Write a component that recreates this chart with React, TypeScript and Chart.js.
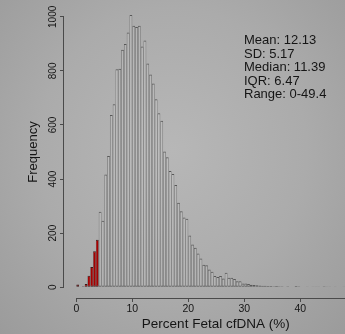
import React, { useEffect, useRef } from "react";
import { Chart, registerables } from "chart.js";

Chart.register(...registerables);

// Histogram bins: start of each 0.5%-wide bin
const binStarts = [
  0, 0.5, 1, 1.5, 2, 2.5, 3, 3.5, 4, 4.5,
  5, 5.5, 6, 6.5, 7, 7.5, 8, 8.5, 9, 9.5,
  10, 10.5, 11, 11.5, 12, 12.5, 13, 13.5, 14, 14.5,
  15, 15.5, 16, 16.5, 17, 17.5, 18, 18.5, 19, 19.5,
  20, 20.5, 21, 21.5, 22, 22.5, 23, 23.5, 24, 24.5,
  25, 25.5, 26, 26.5, 27, 27.5, 28, 28.5, 29, 29.5,
  30, 30.5, 31, 31.5, 32, 32.5, 33, 33.5, 34, 34.5,
  35, 35.5, 36, 36.5, 37, 37.5, 38, 38.5, 39, 39.5,
  40, 40.5, 41, 41.5, 42, 42.5, 43, 43.5, 44, 44.5,
  45, 45.5, 46, 46.5, 47, 47.5, 48, 48.5, 49, 49.5,
];
const binWidth = 0.5;

// Frequencies
const counts = [
  10, 0, 3, 12, 42, 75, 133, 175, 279, 246,
  417, 485, 637, 677, 806, 808, 878, 899, 942, 1007,
  967, 962, 967, 890, 912, 827, 787, 753, 695, 643,
  616, 502, 481, 430, 419, 378, 312, 281, 258, 253,
  191, 158, 146, 125, 106, 83, 81, 65, 57, 41,
  38, 41, 32, 53, 35, 35, 30, 22, 22, 14,
  14, 12, 9, 8, 7, 6, 5, 5, 4, 4,
  3, 4, 3, 3, 2, 3, 2, 2, 4, 3,
  2, 2, 1, 2, 1, 1, 1, 2, 3, 1,
  1, 0, 1, 0, 0, 1, 0, 0, 1, 0,
];

const lowCutoff = 4; // bins below this are highlighted red
const xTicks = [0, 10, 20, 30, 40, 50];
const yTicks = [0, 200, 400, 600, 800, 1000];
const statsLines = ["Mean: 12.13", "SD: 5.17", "Median: 11.39", "IQR: 6.47", "Range: 0-49.4"];

const FONT = '"Liberation Sans", Arial, sans-serif';
const AXIS_COLOR = "#4a4a4a";
const TEXT_COLOR = "#151515";

const axisLinesPlugin = {
  id: "axisLines",
  afterDatasetsDraw(chart: any) {
    const ctx = chart.ctx;
    const area = chart.chartArea;
    const x = chart.scales.x;
    const y = chart.scales.y;
    ctx.save();
    ctx.strokeStyle = AXIS_COLOR;
    ctx.lineWidth = 1;
    ctx.beginPath();
    const yb = Math.round(area.bottom) + 0.5;
    ctx.moveTo(x.getPixelForValue(xTicks[0]), yb);
    ctx.lineTo(x.getPixelForValue(xTicks[xTicks.length - 1]), yb);
    ctx.stroke();
    ctx.beginPath();
    const xl = Math.round(area.left) - 0.5;
    ctx.moveTo(xl, y.getPixelForValue(yTicks[0]));
    ctx.lineTo(xl, y.getPixelForValue(yTicks[yTicks.length - 1]));
    ctx.stroke();
    ctx.restore();
  },
};

export default function App() {
  const ref = useRef<HTMLCanvasElement>(null);

  useEffect(() => {
    if (!ref.current) return;
    const data = binStarts.map((b, i) => ({ x: b + binWidth / 2, y: counts[i] }));
    const chart = new Chart(ref.current, {
      type: "bar",
      data: {
        datasets: [
          {
            data,
            backgroundColor: binStarts.map((b) => (b < lowCutoff ? "#a80000" : "rgba(255,255,255,0.10)")),
            borderColor: binStarts.map((b) => (b < lowCutoff ? "#3a1a1a" : "#585858")),
            borderWidth: { left: 0.5, right: 0.5, top: 1, bottom: 1 } as any,
            borderSkipped: false,
            inflateAmount: 0,
            barPercentage: 1,
            categoryPercentage: 1,
          } as any,
        ],
      },
      options: {
        responsive: false,
        maintainAspectRatio: false,
        animation: false,
        devicePixelRatio: 1,
        layout: { padding: { left: 0, right: 12.5, top: 6, bottom: 0 } },
        plugins: { legend: { display: false }, tooltip: { enabled: false } },
        scales: {
          x: {
            type: "linear",
            offset: false,
            min: -2.2,
            max: 52,
            afterFit: (s: any) => {
              s.height = 36;
            },
            afterBuildTicks: (s: any) => {
              s.ticks = xTicks.map((v) => ({ value: v }));
            },
            border: { display: false },
            grid: {
              display: true,
              offset: false,
              drawOnChartArea: false,
              drawTicks: true,
              tickLength: 4,
              color: AXIS_COLOR,
              lineWidth: 1,
            },
            ticks: {
              autoSkip: false,
              maxRotation: 0,
              minRotation: 0,
              padding: 1,
              color: TEXT_COLOR,
              font: { family: FONT, size: 10.5 },
              callback: (v: any) => String(v),
            },
            title: {
              display: true,
              text: "Percent Fetal cfDNA (%)",
              color: TEXT_COLOR,
              font: { family: FONT, size: 13.5 },
              padding: { top: 0, bottom: 1.3 },
            },
          },
          y: {
            type: "linear",
            min: -40,
            max: 1040,
            afterFit: (s: any) => {
              s.width = 64;
            },
            afterBuildTicks: (s: any) => {
              s.ticks = yTicks.map((v) => ({ value: v }));
            },
            border: { display: false },
            grid: {
              display: true,
              offset: false,
              drawOnChartArea: false,
              drawTicks: true,
              tickLength: 4,
              color: AXIS_COLOR,
              lineWidth: 1,
            },
            ticks: {
              autoSkip: false,
              minRotation: 90,
              maxRotation: 90,
              crossAlign: "center",
              padding: -4,
              color: TEXT_COLOR,
              font: { family: FONT, size: 10 },
              callback: (v: any) => String(v),
            },
            title: {
              display: true,
              text: "Frequency",
              color: TEXT_COLOR,
              font: { family: FONT, size: 13 },
              padding: { top: 25.7, bottom: 0 },
            },
          },
        },
      },
      plugins: [axisLinesPlugin],
    });
    return () => chart.destroy();
  }, []);

  return (
    <div
      style={{
        position: "fixed",
        left: 0,
        top: 0,
        width: 345,
        height: 334,
        overflow: "hidden",
        background: "radial-gradient(ellipse at 50% 45%, #b7b7b7 0%, #ababab 55%, #9b9b9b 100%)",
      }}
    >
      <canvas ref={ref} width={380} height={334} style={{ display: "block", width: 380, height: 334 }} />
      <div
        style={{
          position: "absolute",
          left: 244,
          top: 33,
          font: `13px ${FONT}`,
          lineHeight: "13.5px",
          color: TEXT_COLOR,
          whiteSpace: "pre",
        }}
      >
        {statsLines.map((l) => (
          <div key={l}>{l}</div>
        ))}
      </div>
    </div>
  );
}
